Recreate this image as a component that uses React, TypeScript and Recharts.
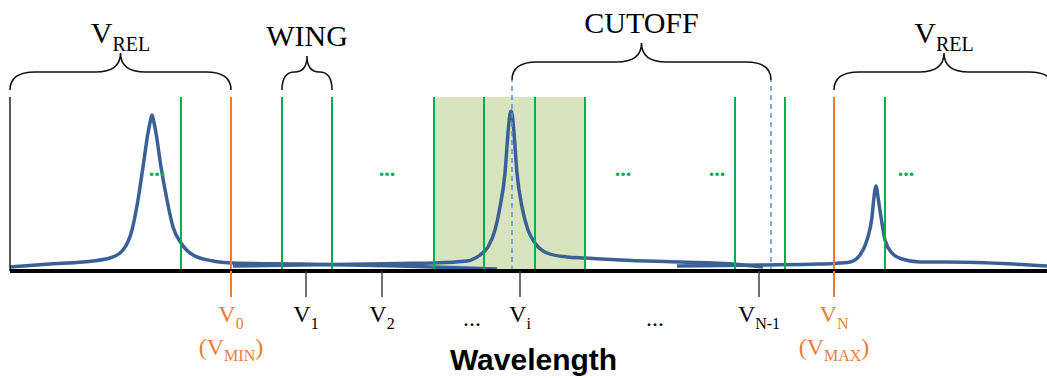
import React from 'react';
import {
  ComposedChart,
  Line,
  XAxis,
  YAxis,
  ReferenceLine,
  ReferenceArea,
  ReferenceDot,
} from 'recharts';

const SERIF = '"Liberation Serif", "Times New Roman", serif';
const SANS = '"Liberation Sans", Arial, sans-serif';
const ORANGE = '#ED7D31';
const GREEN = '#00B050';
const BLUE = '#3B6096';
const DASH_BLUE = '#5B8FD0';
const SHADE = '#D7E4BD';

// wavelength grid (same units as the x axis)
const greenLines = [181, 282, 332, 434, 484, 535, 585, 735, 785, 885];
const boundLines = [231, 834];
const cutoffLines = [512, 771];
const shadedBand = [434, 585];
const ellipsisAt = [157, 387, 623, 717, 906];

// axis labels
const tickAt = [231, 306, 382, 472, 520, 655, 759, 834];
const tickMain = ['V', 'V', 'V', '...', 'V', '...', 'V', 'V'];
const tickSub = ['0', '1', '2', '', 'i', '', 'N-1', 'N'];
const tickNote = ['MIN', '', '', '', '', '', '', 'MAX'];

// braces on top
const braceFrom = [10, 282, 512, 834];
const braceTo = [231, 332, 771, 1054];
const braceLevel = [180, 180, 190, 180];
const braceText = ['V', 'WING', 'CUTOFF', 'V'];
const braceSub = ['REL', '', '', 'REL'];

// line profiles (intensity vs wavelength)
const peakLeft = [
  { w: 10, a: 3 }, { w: 50, a: 6 }, { w: 83, a: 8 }, { w: 110, a: 12 },
  { w: 123, a: 20 }, { w: 132, a: 40 }, { w: 138, a: 70 }, { w: 143, a: 103 },
  { w: 148, a: 137 }, { w: 150.6, a: 150 }, { w: 152, a: 155 }, { w: 153.4, a: 150 },
  { w: 156, a: 137 }, { w: 161, a: 103 },
  { w: 167, a: 70 }, { w: 173, a: 43 }, { w: 181, a: 27 }, { w: 193, a: 15 },
  { w: 213, a: 9 }, { w: 233, a: 7 }, { w: 300, a: 6 }, { w: 400, a: 4 },
  { w: 497, a: 1 },
];
const peakMid = [
  { w: 233, a: 4 }, { w: 300, a: 5 }, { w: 400, a: 6.5 }, { w: 433, a: 7 },
  { w: 467, a: 9 }, { w: 480, a: 15 }, { w: 488, a: 23 }, { w: 495, a: 40 },
  { w: 500, a: 63 }, { w: 505, a: 97 }, { w: 508, a: 137 }, { w: 509.7, a: 154 },
  { w: 511, a: 159 }, { w: 512.4, a: 154 }, { w: 514, a: 137 },
  { w: 517, a: 97 }, { w: 522, a: 63 }, { w: 528, a: 40 },
  { w: 535, a: 27 }, { w: 547, a: 17 }, { w: 567, a: 13 }, { w: 585, a: 12 },
  { w: 620, a: 10 }, { w: 680, a: 8 }, { w: 733, a: 6 }, { w: 763, a: 3 },
];
const peakRight = [
  { w: 677, a: 4 }, { w: 763, a: 5 }, { w: 820, a: 6 }, { w: 834, a: 6.5 },
  { w: 850, a: 8 }, { w: 860, a: 15 }, { w: 867, a: 30 }, { w: 872, a: 53 },
  { w: 874, a: 73 }, { w: 875.1, a: 81 }, { w: 876, a: 84 }, { w: 876.9, a: 81 },
  { w: 878, a: 73 }, { w: 881, a: 53 },
  { w: 885, a: 30 }, { w: 892, a: 17 }, { w: 902, a: 11 }, { w: 920, a: 8 },
  { w: 947, a: 8 }, { w: 1013, a: 6 }, { w: 1047, a: 4 },
];

const makeBrace = (i: number) => (p: any) => {
  const { x1, y1, x2 } = p;
  const w = x2 - x1;
  const mid = (x1 + x2) / 2;
  const arm = Math.min(25, w / 4);
  const h1 = 18;
  const h2 = w < 100 ? 16 : 19;
  const yh = y1 - h1;
  const tip = yh - h2;
  const d =
    `M${x1},${y1} Q${x1},${yh} ${x1 + arm},${yh} L${mid - arm},${yh} ` +
    `Q${mid},${yh} ${mid},${tip} Q${mid},${yh} ${mid + arm},${yh} ` +
    `L${x2 - arm},${yh} Q${x2},${yh} ${x2},${y1}`;
  return (
    <g>
      <path d={d} fill="none" stroke="#111" strokeWidth={1.5} />
      <text x={mid} y={tip - 10} textAnchor="middle" fontFamily={SERIF} fontSize={30} fill="#000">
        {braceText[i]}
        {braceSub[i] && (
          <tspan fontSize={20} dy={8}>
            {braceSub[i]}
          </tspan>
        )}
      </text>
    </g>
  );
};

const GreenDots = (p: any) => (
  <text x={p.cx} y={p.cy} textAnchor="middle" fontFamily={SERIF} fontSize={22} fontWeight="bold" fill={GREEN}>
    ...
  </text>
);

const WaveTick = (props: any) => {
  const { x, y, payload } = props;
  const i = tickAt.indexOf(payload.value);
  if (i < 0) return null;
  const bound = tickNote[i] !== '';
  const dots = tickMain[i] === '...';
  const color = bound ? ORANGE : '#000';
  return (
    <g>
      {!dots && (
        <line x1={x} x2={x} y1={y} y2={y + 26} stroke={bound ? ORANGE : '#404040'} strokeWidth={bound ? 2 : 1.5} />
      )}
      <text x={x} y={y + (dots ? 55 : 51)} textAnchor="middle" fontFamily={SERIF} fontSize={24} fill={color}>
        {tickMain[i]}
        {tickSub[i] && (
          <tspan fontSize={16} dy={7}>
            {tickSub[i]}
          </tspan>
        )}
      </text>
      {bound && (
        <text x={x} y={y + 84} textAnchor="middle" fontFamily={SERIF} fontSize={24} fill={color}>
          (V
          <tspan fontSize={16} dy={6}>
            {tickNote[i]}
          </tspan>
          <tspan dy={-6}>)</tspan>
        </text>
      )}
    </g>
  );
};

const AxisTitle = (p: any) => {
  const vb = p.viewBox || {};
  return (
    <text x={vb.x + vb.width / 2 + 5} y={vb.y + vb.height - 8} textAnchor="middle" fontFamily={SANS} fontWeight="bold" fontSize={30} fill="#000">
      Wavelength
    </text>
  );
};

export default function App() {
  return (
    <div style={{ position: 'absolute', left: 0, top: 0, width: 1047, height: 378, background: '#fff' }}>
      <ComposedChart width={1047} height={378} margin={{ top: 97, right: 0, bottom: 0, left: 0 }}>
        <XAxis
          dataKey="w"
          type="number"
          domain={[10, 1047]}
          allowDataOverflow
          ticks={tickAt}
          interval={0}
          tick={<WaveTick />}
          tickLine={false}
          tickSize={0}
          tickMargin={0}
          height={107}
          axisLine={{ stroke: '#000', strokeWidth: 4 }}
          label={{ content: AxisTitle }}
        />
        <YAxis
          type="number"
          domain={[-1, 173]}
          allowDataOverflow
          width={10}
          tick={false}
          tickLine={false}
          axisLine={{ stroke: '#000', strokeWidth: 1.3 }}
        />
        <ReferenceArea x1={shadedBand[0]} x2={shadedBand[1]} fill={SHADE} fillOpacity={1} stroke="none" ifOverflow="visible" />
        <Line data={peakLeft} dataKey="a" type="monotone" stroke={BLUE} strokeWidth={3.5} dot={false} activeDot={false} isAnimationActive={false} strokeLinejoin="round" />
        <Line data={peakMid} dataKey="a" type="monotone" stroke={BLUE} strokeWidth={3.5} dot={false} activeDot={false} isAnimationActive={false} strokeLinejoin="round" />
        <Line data={peakRight} dataKey="a" type="monotone" stroke={BLUE} strokeWidth={3.5} dot={false} activeDot={false} isAnimationActive={false} strokeLinejoin="round" />
        {greenLines.map((v) => (
          <ReferenceLine key={'g' + v} x={v} stroke={GREEN} strokeWidth={2} ifOverflow="visible" zIndex={450} />
        ))}
        {boundLines.map((v) => (
          <ReferenceLine key={'o' + v} x={v} stroke={ORANGE} strokeWidth={2} ifOverflow="visible" zIndex={450} />
        ))}
        {cutoffLines.map((v) => (
          <ReferenceLine
            key={'c' + v}
            segment={[{ x: v, y: -1 }, { x: v, y: 190 }]}
            stroke={DASH_BLUE}
            strokeWidth={1.5}
            strokeDasharray="5 4"
            ifOverflow="visible"
            zIndex={450}
          />
        ))}
        {braceFrom.map((v, i) => (
          <ReferenceLine
            key={'b' + i}
            segment={[{ x: v, y: braceLevel[i] }, { x: braceTo[i], y: braceLevel[i] }]}
            ifOverflow="visible"
            shape={makeBrace(i)}
          />
        ))}
        {ellipsisAt.map((v) => (
          <ReferenceDot key={'d' + v} x={v} y={94.5} r={0} ifOverflow="visible" shape={GreenDots} />
        ))}
      </ComposedChart>
    </div>
  );
}
